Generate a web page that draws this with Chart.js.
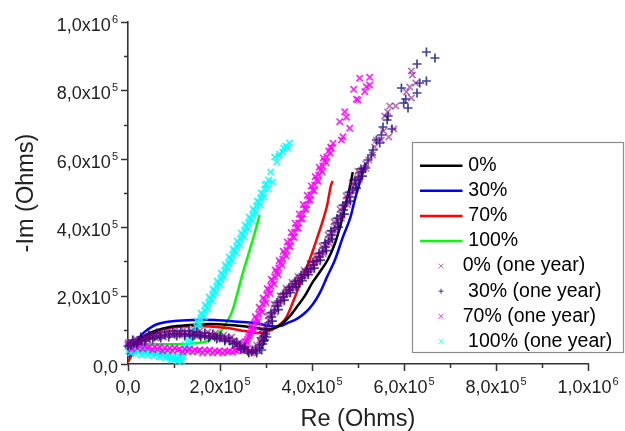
<!DOCTYPE html>
<html>
<head>
<meta charset="utf-8">
<script src="https://cdn.jsdelivr.net/npm/chart.js"></script>
<style>
  html, body { margin: 0; padding: 0; background: #fff; }
  #wrap { width: 625px; height: 431px; }
</style>
</head>
<body>
<div id="wrap"><canvas id="nyquist" width="625" height="431"></canvas></div>
<script>
// all values in kOhm  (1 unit = 10^3 Ohms), [Re, -Im]
const fresh0 = [[2,35],[14.6,58.5],[36,82],[58,96.5],[90.7,108],[134,114],[177.6,117],[221,114],[264.6,108],[297,102],[319,105],[336.6,120],[351.8,140],[367,167],[384.4,199],[401.8,240],[417,269],[434,304],[449.4,351],[460.3,398],[471,456],[482,515],[488.6,561]];
const fresh30 = [[0,20.5],[8,41],[21,70],[36,94],[64.6,117],[101.5,126],[145,129],[188.5,129],[232,124],[275.4,120],[308,111],[330,111],[347,120],[367,132],[384.4,149],[401.8,175],[417,208],[432.4,254],[449.8,304],[467,371],[482.4,424],[493,480],[504,532],[517,588]];
const fresh70 = [[0,6],[6,20.5],[21,55.6],[43,79],[64.6,96.5],[101.5,108],[138.5,111],[177.6,109.6],[216.7,105],[253.6,96.5],[279.8,90.6],[301.5,93.6],[323.3,108],[340.7,129],[351.6,158],[364.6,202],[379.8,254],[397,313],[417,392],[432,459],[440.7,520],[445,535]];
const fresh100 = [[0,6],[5.9,29],[14.6,50],[29.8,56],[58,58],[101.5,58],[145,61],[166.7,64],[182,73],[192.8,85],[203.6,99],[216.7,126],[227.5,158],[238.4,210],[247,254],[260,313],[275.4,383],[286.2,436]];

const aged0 = [
  [0,61.4],[3.7,52.6],[8,58.5],[14.6,64.3],[21.1,67.3],[29.8,70.2],[38.5,76],[47.2,78.9],[58,81.9],[68.9,84.8],[79.8,87.7],[90.7,90.6],[101.5,90.6],[112.4,90.6],[123.3,90.6],[134.1,90.6],[145,87.7],[155.9,87.7],[166.8,84.8],[177.6,84.8],[188.5,81.9],[199.4,78.9],[210.2,76],[221.1,73.1],[229.8,67.3],[238.5,58.5],[247.2,49.7],[255.9,40.9],[264.6,38],[273.3,43.9],[279.8,55.6],[286.3,70.2],[292.8,87.7],[299.4,108.2],[305.9,128.7],[312.4,146.2],[318.9,163.7],[325.5,178.4],[332,190.1],[338.5,201.8],[345,213.5],[351.5,222.2],[358.1,231],[364.6,239.8],[371.1,248.5],[377.6,257.3],[384.1,266.1],[390.7,274.9],[397.2,283.6],[403.7,295.3],[410.2,307],[416.7,318.7],[423.3,333.3],[429.8,348],[436.3,365.5],[442.8,383],[449.4,403.5],[455.9,421.1],[462.4,438.6],[468.9,459.1],[475.5,479.5],[482,497.1],[488.5,517.5],[495,535.1],[501.5,552.6],[508.1,567.3],[516.8,584.8],[523.3,596.5],[531.2,611.1],[536.3,634.5],[540,655],[550.9,655],[555.9,681.3],[566.8,663.7],[577.6,687.1],[558.1,725.2],[564.6,736.8],[569,754.4],[582,754.4],[616.1,777.8],[605.2,795.3],[612.4,810],[625.4,821.6],[618.3,845],[616.1,856.7],
  [16.7,73.1],[25.4,61.4],[34.1,81.9],[42.8,70.2],[51.5,87.7],[60.2,76],[68.9,93.6],[77.6,78.9],[86.3,96.5],[95,84.8],[103.7,99.4],[112.4,84.8],[121.1,99.4],[129.8,84.8],[138.5,96.5],[147.2,81.9],[155.9,96.5],[164.6,81.9],[173.3,93.6],[182,78.9],[190.7,90.6],[199.4,73.1],[208.1,84.8],[216.8,67.3],[225.5,78.9],[234.2,55.6],[242.8,64.3],[251.5,38],[260.2,46.8],[268.9,32.2],[275.4,35.1],[281.9,46.8],[288.5,64.3],[295,76],
  [291.3,101.2],[307.4,115.2],[304.4,140.6],[320.4,151.8],[317.4,174.3],[333.5,181],[330.4,199.1],[346.5,204.4],[343.5,221.1],[359.6,223.4],[356.5,238.6],[372.6,240.9],[369.6,256.1],[385.7,258.5],[382.6,273.7],[398.7,276],[395.7,292.7],[411.8,298],[408.7,316.1],[424.8,322.8],[421.8,343.9],[437.8,353.5],[434.8,377.5],[450.9,390.1],[447.8,415.5],[463.9,426.6],[460.9,452.1],[477,466.1],[473.9,491.5],[490,504.1],[487,529.5],[503.1,540.6],[500,563.2],[517.2,572.8]
];
const aged30 = [
  [0,52.6],[5.9,55.6],[12.4,61.4],[21.1,64.3],[29.8,70.2],[38.5,73.1],[47.2,76],[58,78.9],[68.9,81.9],[79.8,84.8],[90.7,87.7],[101.5,87.7],[112.4,87.7],[123.3,87.7],[134.1,87.7],[145,84.8],[155.9,84.8],[166.8,81.9],[177.6,81.9],[188.5,78.9],[199.4,76],[210.2,73.1],[221.1,67.3],[232,61.4],[242.8,52.6],[251.5,43.9],[260.2,38],[268.9,35.1],[277.6,38],[286.3,46.8],[292.8,58.5],[297.2,70.2],[295,81.9],[299.4,99.4],[305.9,119.9],[312.4,137.4],[318.9,155],[325.5,169.6],[332,184.2],[338.5,195.9],[345,207.6],[351.5,216.4],[358.1,225.1],[364.6,233.9],[371.1,242.7],[377.6,251.5],[384.1,260.2],[390.7,269],[397.2,277.8],[403.7,289.5],[410.2,301.2],[416.7,312.9],[423.3,327.5],[429.8,342.1],[436.3,359.7],[442.8,377.2],[449.4,394.7],[455.9,412.3],[462.4,432.8],[468.9,450.3],[475.5,470.8],[482,488.3],[488.5,508.8],[495,526.3],[501.5,543.9],[508.1,561.4],[516.8,573.1],[521.8,596.5],[529.2,611.1],[532.6,625.7],[540,655],[547.2,646.2],[550.9,669.6],[554.4,693],[573.9,687.1],[563.3,713.5],[565.5,725.2],[608.7,748.5],[599.3,763.2],[603.7,774.9],[594.4,807],[628.3,792.4],[634.2,821.6],[648.7,827.5],[628.3,877.2],[648.7,912.3],[667.4,894.7],
  [10.2,70.2],[18.9,58.5],[27.6,78.9],[36.3,67.3],[45,84.8],[53.7,73.1],[62.4,90.6],[71.1,76],[79.8,93.6],[88.5,78.9],[97.2,96.5],[105.9,81.9],[114.6,96.5],[123.3,81.9],[132,96.5],[140.7,81.9],[149.4,93.6],[158.1,78.9],[166.8,90.6],[175.5,76],[184.2,87.7],[192.9,73.1],[201.6,81.9],[210.3,67.3],[219,76],[227.6,58.5],[236.3,64.3],[245,43.9],[253.7,49.7],[262.4,32.2],[271.1,40.9],[279.8,32.2],[286.3,55.6],[290.7,40.9],[295,67.3],[301.5,78.9],[290.7,76],[299.4,87.7],
  [313.9,125.4],[310.9,149.4],[327,159.1],[323.9,180.1],[340,186.8],[337,205],[353.1,208.8],[350,224],[366.1,226.3],[363.1,241.5],[379.1,243.9],[376.1,259.1],[392.2,261.4],[389.1,276.6],[405.2,280.4],[402.2,298.5],[418.3,303.8],[415.2,323.4],[431.3,331.6],[428.3,354.1],[444.4,365.2],[441.3,389.2],[457.4,400.3],[454.4,425.7],[470.5,438.3],[467.4,463.7],[483.5,476.3],[480.5,501.8],[496.5,514.3],[493.5,538.3],[509.6,549.4],[506.5,570.5]
];
const aged70 = [
  [0,55.6],[3.7,64.3],[5.9,49.7],[10.2,58.5],[16.7,52.6],[25.4,52.6],[36.3,52.6],[47.2,49.7],[58,49.7],[68.9,49.7],[79.8,46.8],[90.7,46.8],[101.5,46.8],[112.4,43.9],[123.3,43.9],[134.1,43.9],[145,40.9],[155.9,40.9],[166.8,40.9],[177.6,40.9],[188.5,38],[199.4,38],[210.2,38],[221.1,38],[232,40.9],[240.7,43.9],[247.2,49.7],[253.7,58.5],[258.1,67.3],[262.4,78.9],[266.8,90.6],[271.1,105.3],[275.4,119.9],[279.8,131.6],[284.1,146.2],[288.5,160.8],[292.8,175.4],[297.2,187.1],[301.5,201.8],[305.9,216.4],[310.2,228],[314.6,242.7],[318.9,254.4],[323.3,269],[327.6,280.7],[332,295.3],[336.3,307],[340.7,321.6],[345,333.3],[349.4,345],[353.7,359.7],[358.1,371.3],[362.4,386],[366.8,397.7],[371.1,412.3],[375.4,424],[379.8,438.6],[384.1,453.2],[388.5,464.9],[392.8,479.5],[397.2,494.2],[401.5,508.8],[405.9,523.4],[410.2,538],[414.6,552.6],[418.9,567.3],[423.3,579],[427.6,593.6],[432,605.3],[436.3,622.8],[440.7,634.5],[442.2,630.7],[445.7,645.3],[463.9,655],[467.4,664.6],[482,689.2],[460.3,708.5],[474.8,721.4],[471.1,737.7],[496.5,774.3],[500.1,772],[490.7,803.2],[514.6,796.2],[518.3,810.8],[525.4,815.7],[503.7,835.4],[525.4,838.3],
  [8,43.9],[21.1,46.8],[32,43.9],[42.8,46.8],[53.7,40.9],[64.6,43.9],[75.4,38],[86.3,40.9],[97.2,38],[108,40.9],[118.9,35.1],[129.8,38],[140.6,35.1],[151.5,38],[162.4,32.2],[173.3,35.1],[184.1,32.2],[195,35.1],[205.9,32.2],[216.7,35.1],[227.6,35.1],[236.3,38],[242.8,43.9],[251.5,52.6],[255.9,64.3],[260.2,73.1],[264.6,84.8],[268.9,99.4],
  [274.3,97.4],[267.9,111.1],[283,124.7],[276.6,138.4],[291.7,152],[285.3,165.7],[300.4,179.3],[294,193],[309.1,206.6],[302.7,220.3],[317.8,233.9],[311.4,247.6],[326.5,261.2],[320.1,274.9],[335.2,288.5],[328.8,302.2],[343.9,315.8],[337.5,329.5],[352.6,343.1],[346.2,356.8],[361.3,370.4],[354.9,384.1],[370,397.7],[363.6,411.4],[378.7,425],[372.3,438.7],[387.4,452.3],[381,466],[396.1,479.6],[389.7,493.3],[404.8,506.9],[398.4,520.6],[413.5,534.2],[407.1,547.9],[422.2,561.5],[415.8,575.2],[430.9,588.8],[424.5,602.5],[439.6,616.1]
];
const aged100 = [
  [0,49.7],[1.5,58.5],[3.7,43.9],[8,52.6],[12.4,40.9],[18.9,38],[25.4,38],[32,35.1],[38.5,35.1],[45,35.1],[51.5,32.2],[58,32.2],[64.5,29.2],[71.1,29.2],[77.6,26.3],[84.1,23.4],[90.7,20.5],[97.2,17.5],[103.7,14.6],[110.2,14.6],[114.6,17.5],[119,26.3],[123.3,38],[127.7,49.7],[132,61.4],[136.4,73.1],[140.7,84.8],[145.1,96.5],[149.4,108.2],[153.8,119.9],[158.1,131.6],[162.5,143.3],[166.8,155],[171.2,166.7],[175.5,178.4],[179.8,190.1],[184.2,201.8],[188.5,213.5],[192.9,225.1],[197.2,236.8],[201.6,248.5],[205.9,260.2],[210.3,271.9],[214.6,283.6],[219,295.3],[223.3,307],[227.6,318.7],[232,330.4],[236.3,342.1],[240.7,353.8],[245,365.5],[249.4,377.2],[253.7,388.9],[258.1,400.6],[262.4,412.3],[266.8,424],[271.1,435.7],[275.4,447.4],[279.8,462],[284.1,473.7],[288.5,485.4],[292.8,497.1],[297.2,511.7],[301.5,526.3],[305.9,538],[310.2,561.4],[314.6,532.2],[318.9,605.3],[323.3,590.6],[327.6,608.2],[329.8,614],[336.3,619.9],[338.5,631.6],[342.8,637.4],[347.2,631.6],[351.5,646.2],
  [1.5,38],[5.9,32.2],[12.4,49.7],[16.7,29.2],[23.3,43.9],[29.8,26.3],[36.3,43.9],[42.8,26.3],[49.3,40.9],[55.9,23.4],[62.4,38],[68.9,20.5],[75.4,35.1],[81.9,17.5],[88.5,29.2],[95,11.7],[101.5,23.4],[108,8.8],[112.4,23.4],[116.7,8.8],[121.1,32.2],
  [130.8,43.9],[124.4,55.6],[139.5,67.3],[133.1,79],[148.2,90.7],[141.7,102.4],[156.9,114.1],[150.4,125.8],[165.6,137.5],[159.1,149.2],[174.3,160.9],[167.8,172.6],[183,184.3],[176.5,196],[191.7,207.7],[185.2,219.4],[200.3,231.1],[193.9,242.8],[209,254.5],[202.6,266.2],[217.7,277.9],[211.3,289.6],[226.4,301.3],[220,313],[235.1,324.7],[228.7,336.4],[243.8,348.1],[237.4,359.8],[252.5,371.5],[246.1,383.2],[261.2,394.9],[254.8,406.6],[269.9,418.3],[263.5,430],[278.6,441.7],[272.2,453.4],[287.3,465.1],[280.9,476.8],[296,488.5],[289.6,500.2],[304.7,511.9],[298.2,523.6]
];

const seriesLabels = ['0%', '30%', '70%', '100%', '0% (one year)', ' 30% (one year)', '70% (one year)', ' 100% (one year)'];
const lineColors = ['#000000', '#0000ff', '#ff0000', '#00ff00'];
const markColors = ['rgba(128,0,128,0.55)', 'rgba(0,0,128,0.75)', 'rgba(255,0,255,0.85)', 'rgba(0,255,255,0.85)'];
const markStyles = ['crossRot', 'cross', 'crossRot', 'crossRot'];

// axis ticks (kOhm) and their labels [mantissa, exponent]
const majorTicks = [0, 200, 400, 600, 800, 1000];
const minorTicks = [100, 300, 500, 700, 900];
const tickLabels = [['0,0', ''], ['2,0x10', '5'], ['4,0x10', '5'], ['6,0x10', '5'], ['8,0x10', '5'], ['1,0x10', '6']];

const FONT = '"Liberation Sans", Arial, sans-serif';
const AXIS = '#333';

const toPts = arr => arr.map(p => ({ x: p[0], y: p[1] }));

const datasets = [];
[fresh0, fresh30, fresh70, fresh100].forEach((s, i) => {
  datasets.push({
    label: seriesLabels[i],
    data: toPts(s),
    showLine: true,
    borderColor: lineColors[i],
    borderWidth: 2.5,
    pointRadius: 0,
    tension: 0.35,
    order: 1
  });
});
[aged0, aged30, aged70, aged100].forEach((s, i) => {
  datasets.push({
    label: seriesLabels[i + 4],
    data: toPts(s),
    showLine: false,
    pointStyle: markStyles[i],
    pointRadius: 4.5,
    pointBorderWidth: 1.7,
    borderColor: markColors[i],
    backgroundColor: markColors[i],
    clip: false,
    order: 0
  });
});

// superscript tick label
function drawSci(ctx, base, exp, x, y, align) {
  ctx.font = '18px ' + FONT;
  const bw = ctx.measureText(base).width;
  ctx.font = '11px ' + FONT;
  const ew = exp ? ctx.measureText(exp).width + 1 : 0;
  const left = align === 'right' ? x - bw - ew : x - (bw + ew) / 2;
  ctx.textAlign = 'left';
  ctx.textBaseline = 'alphabetic';
  ctx.font = '18px ' + FONT;
  ctx.fillText(base, left, y);
  if (exp) {
    ctx.font = '11px ' + FONT;
    ctx.fillText(exp, left + bw + 1, y - 8);
  }
}

/* ticks, tick labels and axis titles */
const axisDecor = {
  id: 'axisDecor',
  afterDraw(chart) {
    const { ctx, scales: { x, y }, chartArea: a } = chart;
    ctx.save();
    ctx.strokeStyle = AXIS;
    ctx.lineWidth = 1.5;
    ctx.beginPath();
    majorTicks.forEach(v => {
      const px = Math.round(x.getPixelForValue(v)) + 0.5;
      ctx.moveTo(px, a.bottom); ctx.lineTo(px, a.bottom + 7);
      const py = Math.round(y.getPixelForValue(v)) + 0.5;
      ctx.moveTo(a.left, py); ctx.lineTo(a.left - 7, py);
    });
    minorTicks.forEach(v => {
      const px = Math.round(x.getPixelForValue(v)) + 0.5;
      ctx.moveTo(px, a.bottom); ctx.lineTo(px, a.bottom + 4);
      const py = Math.round(y.getPixelForValue(v)) + 0.5;
      ctx.moveTo(a.left, py); ctx.lineTo(a.left - 4, py);
    });
    ctx.stroke();

    ctx.fillStyle = '#222';
    majorTicks.forEach((v, i) => {
      const [b, e] = tickLabels[i];
      drawSci(ctx, b, e, x.getPixelForValue(v), a.bottom + 29, 'center');
      drawSci(ctx, b, e, a.left - 10, y.getPixelForValue(v) + 8.7, 'right');
    });

    ctx.font = '23.5px ' + FONT;
    ctx.textAlign = 'center';
    ctx.textBaseline = 'alphabetic';
    ctx.fillText('Re (Ohms)', (a.left + a.right) / 2, 426);
    ctx.translate(33, (a.top + a.bottom) / 2);
    ctx.rotate(-Math.PI / 2);
    ctx.fillText('-Im (Ohms)', 0, 0);
    ctx.restore();
  }
};

/* legend box inside the plot */
const boxLegend = {
  id: 'boxLegend',
  afterDraw(chart) {
    const ctx = chart.ctx;
    const bx = 412.5, by = 142.5, bw = 211, bh = 210;
    ctx.save();
    ctx.fillStyle = '#fff';
    ctx.fillRect(bx, by, bw, bh);
    ctx.strokeStyle = '#8c8c8c';
    ctx.lineWidth = 1.2;
    ctx.strokeRect(bx, by, bw, bh);
    ctx.font = '19.5px ' + FONT;
    ctx.textBaseline = 'middle';
    ctx.textAlign = 'left';
    chart.data.datasets.forEach((ds, i) => {
      const ry = 165.7 + i * 25.1;
      if (i < 4) {
        ctx.strokeStyle = ds.borderColor;
        ctx.lineWidth = 2.5;
        ctx.beginPath();
        ctx.moveTo(420, ry); ctx.lineTo(462.5, ry);
        ctx.stroke();
        ctx.fillStyle = '#000';
        ctx.fillText(ds.label, 468.3, ry);
      } else {
        ctx.strokeStyle = ds.borderColor;
        ctx.lineWidth = 1;
        ctx.beginPath();
        const c = 441, r = 2.5;
        if (ds.pointStyle === 'cross') {
          ctx.moveTo(c - r, ry); ctx.lineTo(c + r, ry);
          ctx.moveTo(c, ry - r); ctx.lineTo(c, ry + r);
        } else {
          ctx.moveTo(c - r, ry - r); ctx.lineTo(c + r, ry + r);
          ctx.moveTo(c - r, ry + r); ctx.lineTo(c + r, ry - r);
        }
        ctx.stroke();
        ctx.fillStyle = '#000';
        ctx.fillText(ds.label, 462.7, ry);
      }
    });
    ctx.restore();
  }
};

new Chart(document.getElementById('nyquist'), {
  type: 'scatter',
  data: { datasets },
  options: {
    responsive: false,
    animation: false,
    devicePixelRatio: 1,
    layout: { padding: { left: 0, top: 22, right: 37, bottom: 0 } },
    plugins: { legend: { display: false }, tooltip: { enabled: false } },
    scales: {
      x: {
        type: 'linear', min: 0, max: 1000,
        grid: { display: false },
        ticks: { display: false },
        border: { color: AXIS, width: 1.6 },
        afterFit: s => { s.height = 67; }
      },
      y: {
        type: 'linear', min: 0, max: 1000,
        grid: { display: false },
        ticks: { display: false },
        border: { color: AXIS, width: 1.6 },
        afterFit: s => { s.width = 128; }
      }
    }
  },
  plugins: [axisDecor, boxLegend]
});
</script>
</body>
</html>
